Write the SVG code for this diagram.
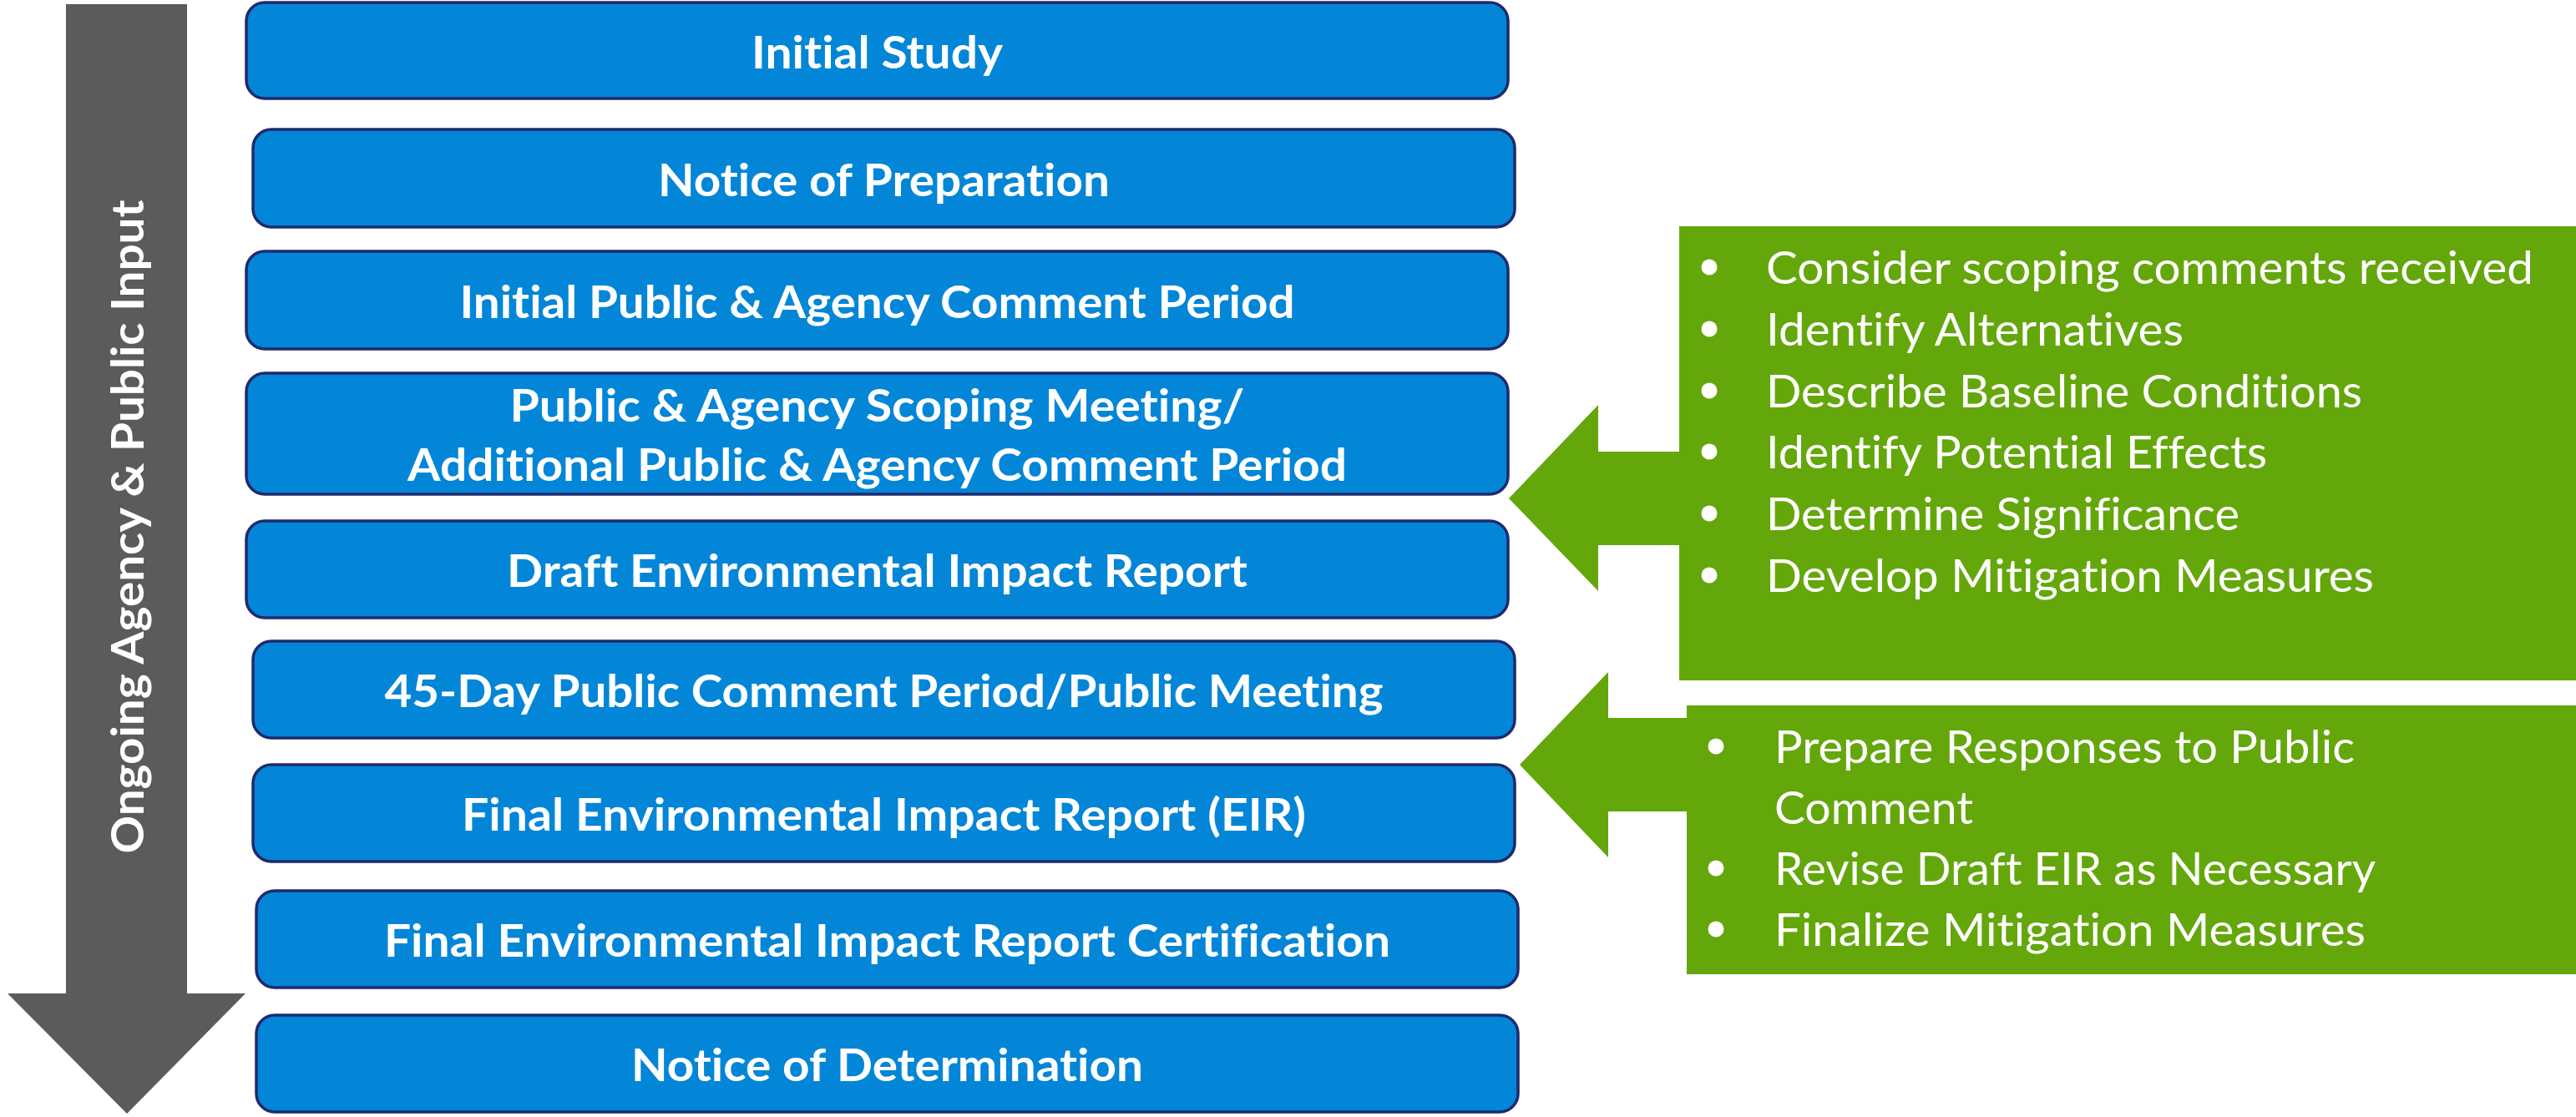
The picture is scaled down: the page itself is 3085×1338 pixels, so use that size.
<svg xmlns="http://www.w3.org/2000/svg" width="3085" height="1338" viewBox="0 0 3085 1338">
  <style>
    text { font-variant-ligatures: none; font-feature-settings: "liga" 0, "clig" 0; }
    .step rect { fill: #0386D7; stroke: #1F2A6C; stroke-width: 3.5; }
    .step text { fill: #FFFFFF; font-family: Lato, "Open Sans", sans-serif; font-weight: bold; font-size: 54px; text-anchor: middle; }
    .note rect, .block { fill: #64A70B; }
    .note text { fill: #FFFFFF; font-family: Lato, "Open Sans", sans-serif; font-size: 54px; }
    .note circle { fill: #FFFFFF; }
    .timeline path { fill: #5B5B5B; }
    .timeline text { fill: #FFFFFF; font-family: Lato, "Open Sans", sans-serif; font-weight: bold; font-size: 54px; text-anchor: middle; }
  </style>
  <rect width="3085" height="1338" fill="#FFFFFF"/>

  <!-- ongoing input timeline arrow -->
  <g id="timeline" class="timeline">
    <path d="M79,5 H224 V1190 H294 L152,1334 L9,1190 H79 Z"/>
    <text transform="translate(172,631) rotate(-90)" textLength="783" lengthAdjust="spacingAndGlyphs">Ongoing Agency &amp; Public Input</text>
  </g>

  <!-- process steps -->
  <g id="step-initial-study" class="step">
    <rect x="295" y="3" width="1511" height="115" rx="22"/>
    <text x="1050.5" y="82" textLength="301" lengthAdjust="spacingAndGlyphs">Initial Study</text>
  </g>
  <g id="step-notice-of-preparation" class="step">
    <rect x="303" y="155" width="1511" height="117" rx="22"/>
    <text x="1058.5" y="235" textLength="541" lengthAdjust="spacingAndGlyphs">Notice of Preparation</text>
  </g>
  <g id="step-initial-comment-period" class="step">
    <rect x="295" y="301" width="1511" height="117" rx="22"/>
    <text x="1050.5" y="381" textLength="1000" lengthAdjust="spacingAndGlyphs">Initial Public &amp; Agency Comment Period</text>
  </g>
  <g id="step-scoping-meeting" class="step">
    <rect x="295" y="447" width="1511" height="145" rx="22"/>
    <text x="1050.5" y="505" textLength="880" lengthAdjust="spacingAndGlyphs">Public &amp; Agency Scoping Meeting/</text>
    <text x="1050.5" y="576" textLength="1125" lengthAdjust="spacingAndGlyphs">Additional Public &amp; Agency Comment Period</text>
  </g>
  <g id="step-draft-eir" class="step">
    <rect x="295" y="624" width="1511" height="116" rx="22"/>
    <text x="1050.5" y="703" textLength="887" lengthAdjust="spacingAndGlyphs">Draft Environmental Impact Report</text>
  </g>
  <g id="step-public-comment-period" class="step">
    <rect x="303" y="768" width="1511" height="116" rx="22"/>
    <text x="1058.5" y="847" textLength="1196" lengthAdjust="spacingAndGlyphs">45-Day Public Comment Period/Public Meeting</text>
  </g>
  <g id="step-final-eir" class="step">
    <rect x="303" y="916" width="1511" height="116" rx="22"/>
    <text x="1058.5" y="995" textLength="1011" lengthAdjust="spacingAndGlyphs">Final Environmental Impact Report (EIR)</text>
  </g>
  <g id="step-eir-certification" class="step">
    <rect x="307" y="1067" width="1511" height="116" rx="22"/>
    <text x="1062.5" y="1146" textLength="1205" lengthAdjust="spacingAndGlyphs">Final Environmental Impact Report Certification</text>
  </g>
  <g id="step-notice-of-determination" class="step">
    <rect x="307" y="1216" width="1511" height="116" rx="22"/>
    <text x="1062.5" y="1295" textLength="613" lengthAdjust="spacingAndGlyphs">Notice of Determination</text>
  </g>

  <!-- block arrows from the task lists back to the steps -->
  <g id="connectors">
    <path class="block" d="M2015,541 H1914 V485 L1807,597 L1914,708 V653 H2015 Z"/>
    <path class="block" d="M2024,860 H1926 V805 L1820,916 L1926,1027 V972 H2024 Z"/>
  </g>

  <!-- draft EIR analysis tasks -->
  <g id="note-draft-tasks" class="note">
    <rect x="2011" y="271" width="1074" height="544"/>
    <circle cx="2047" cy="320" r="9.5"/>
    <circle cx="2047" cy="394" r="9.5"/>
    <circle cx="2047" cy="468" r="9.5"/>
    <circle cx="2047" cy="541" r="9.5"/>
    <circle cx="2047" cy="615" r="9.5"/>
    <circle cx="2047" cy="689" r="9.5"/>
    <text x="2115" y="340" textLength="919" lengthAdjust="spacingAndGlyphs">Consider scoping comments received</text>
    <text x="2115" y="414" textLength="500" lengthAdjust="spacingAndGlyphs">Identify Alternatives</text>
    <text x="2115" y="488" textLength="714" lengthAdjust="spacingAndGlyphs">Describe Baseline Conditions</text>
    <text x="2115" y="561" textLength="600" lengthAdjust="spacingAndGlyphs">Identify Potential Effects</text>
    <text x="2115" y="635" textLength="567" lengthAdjust="spacingAndGlyphs">Determine Significance</text>
    <text x="2115" y="709" textLength="728" lengthAdjust="spacingAndGlyphs">Develop Mitigation Measures</text>
  </g>

  <!-- final EIR tasks -->
  <g id="note-final-tasks" class="note">
    <rect x="2020" y="845" width="1065" height="322"/>
    <circle cx="2055" cy="894" r="9.5"/>
    <circle cx="2055" cy="1040" r="9.5"/>
    <circle cx="2055" cy="1113" r="9.5"/>
    <text x="2125" y="914" textLength="695" lengthAdjust="spacingAndGlyphs">Prepare Responses to Public</text>
    <text x="2125" y="987" textLength="238" lengthAdjust="spacingAndGlyphs">Comment</text>
    <text x="2125" y="1060" textLength="720" lengthAdjust="spacingAndGlyphs">Revise Draft EIR as Necessary</text>
    <text x="2125" y="1133" textLength="708" lengthAdjust="spacingAndGlyphs">Finalize Mitigation Measures</text>
  </g>
</svg>
